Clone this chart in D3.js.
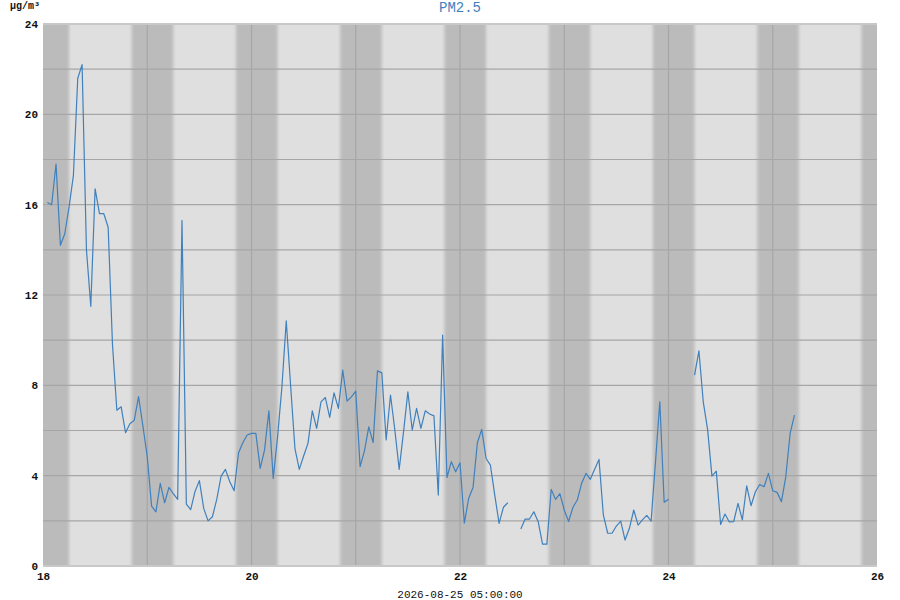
<!DOCTYPE html>
<html>
<head>
<meta charset="utf-8">
<script src="https://cdn.jsdelivr.net/npm/d3@7"></script>
<style>
	body { margin: 0; background: #fff; }
	svg text { font-family: "Liberation Mono", "DejaVu Sans Mono", monospace; }
</style>
</head>
<body>
<div id="chart" style="width:900px;height:600px"></div>
<script>
// PM2.5 hourly readings, first one at 2026-08-18 01:00, null = no reading
let startTime = '2026-08-18T01:00:00';
let pm25 = [
	16.1, 16.0, 17.8, 14.2, 14.7, 15.9, 17.3, 21.6, 22.2, 14.0, 11.5, 16.7,
	15.6, 15.6, 15.0, 9.8, 6.9, 7.05, 5.9, 6.3, 6.45, 7.5, 6.2, 4.84,
	2.65, 2.4, 3.66, 2.8, 3.48, 3.2, 2.95, 15.3, 2.74, 2.5, 3.3, 3.78,
	2.55, 2.0, 2.18, 2.95, 3.98, 4.28, 3.73, 3.33, 5.0, 5.46, 5.8, 5.87,
	5.87, 4.32, 5.13, 6.87, 3.88, 5.72, 7.93, 10.85, 8.0, 5.2, 4.28, 4.87,
	5.43, 6.87, 6.09, 7.27, 7.46, 6.58, 7.67, 6.98, 8.67, 7.3, 7.49, 7.74,
	4.4, 5.1, 6.16, 5.46, 8.64, 8.55, 5.58, 7.57, 6.02, 4.28, 5.94, 7.71,
	6.02, 6.98, 6.09, 6.87, 6.73, 6.65, 3.14, 10.22, 3.92, 4.62, 4.17, 4.57,
	1.9, 3.0, 3.48, 5.46, 6.05, 4.76, 4.47, 3.14, 1.89, 2.6, 2.8, null,
	null, 1.64, 2.08, 2.08, 2.4, 1.96, 0.97, 0.97, 3.39, 2.95, 3.2, 2.48,
	1.97, 2.6, 2.92, 3.66, 4.1, 3.84, 4.28, 4.72, 2.26, 1.45, 1.45, 1.77,
	1.99, 1.15, 1.67, 2.48, 1.81, 2.04, 2.24, 1.99, 4.6, 7.27, 2.82, 2.96,
	null, null, null, null, null, 8.45, 9.53, 7.27, 6.05, 3.98, 4.2, 1.84,
	2.3, 1.95, 1.96, 2.77, 2.04, 3.55, 2.67, 3.29, 3.61, 3.51, 4.1, 3.33,
	3.26, 2.85, 3.95, 5.87, 6.68
];
let xDomain = ['2026-08-18T00:00:00', '2026-08-26T00:00:00'];
let xTicks = ['2026-08-18', '2026-08-20', '2026-08-22', '2026-08-24', '2026-08-26'];
let yTicks = [0, 4, 8, 12, 16, 20, 24];
let yGrid = [0, 2, 4, 6, 8, 10, 12, 14, 16, 18, 20, 22, 24];
// night shading: from sunset of the day before to sunrise
let nightDays = ['2026-08-18', '2026-08-19', '2026-08-20', '2026-08-21', '2026-08-22',
	'2026-08-23', '2026-08-24', '2026-08-25', '2026-08-26'];
let sunset = [20, 25];
let sunrise = [6, 0];
let title = 'PM2.5';
let unit = 'µg/m³';
let updated = '2026-08-25 05:00:00';

let W = 900, H = 600;
let m = {l: 43, t: 24, r: 23, b: 34};
let pw = W - m.l - m.r, ph = H - m.t - m.b;

let svg = d3.select('#chart').append('svg').attr('width', W).attr('height', H);
let defs = svg.append('defs');
defs.append('clipPath').attr('id', 'plotClip')
	.append('rect').attr('width', pw).attr('height', ph);
defs.append('filter').attr('id', 'soft').attr('x', '-20%').attr('width', '140%')
	.append('feGaussianBlur').attr('stdDeviation', '1.8 0');

let x = d3.scaleTime().domain(xDomain.map(d => new Date(d))).range([0, pw]);
let y = d3.scaleLinear().domain([0, 24]).range([ph, 0]);

let t0 = new Date(startTime);
let points = pm25.map((v, i) => ({t: d3.timeHour.offset(t0, i), v: v}));

let g = svg.append('g').attr('transform', `translate(${m.l},${m.t})`);

// background
let bg = g.append('g').attr('clip-path', 'url(#plotClip)');
bg.append('rect').attr('width', pw).attr('height', ph).attr('fill', '#dfdfdf');
let nights = nightDays.map(d => {
	let day = new Date(d + 'T00:00:00');
	let prev = d3.timeDay.offset(day, -1);
	return {
		from: new Date(prev.getFullYear(), prev.getMonth(), prev.getDate(), sunset[0], sunset[1]),
		to: new Date(day.getFullYear(), day.getMonth(), day.getDate(), sunrise[0], sunrise[1])
	};
});
bg.append('g').attr('filter', 'url(#soft)')
	.selectAll('rect').data(nights).enter().append('rect')
	.attr('x', d => x(d.from)).attr('width', d => x(d.to) - x(d.from))
	.attr('y', -10).attr('height', ph + 20)
	.attr('fill', '#bbbbbb');

// grid
g.append('g').selectAll('line').data(yGrid.slice(1, -1)).enter().append('line')
	.attr('x1', 0).attr('x2', pw).attr('y1', d => y(d)).attr('y2', d => y(d))
	.attr('stroke', '#a6a6a6').attr('stroke-width', 1.2);
g.append('g').selectAll('line').data(d3.timeDay.range(x.domain()[0], x.domain()[1]).slice(1)).enter().append('line')
	.attr('y1', 0).attr('y2', ph).attr('x1', d => x(d)).attr('x2', d => x(d))
	.attr('stroke', '#a6a6a6').attr('stroke-width', 1.2);

// frame
g.append('line').attr('x1', 0).attr('x2', pw).attr('y1', 0).attr('y2', 0)
	.attr('stroke', '#c8c8c8').attr('stroke-width', 2);
g.append('line').attr('x1', 0).attr('x2', pw).attr('y1', ph).attr('y2', ph)
	.attr('stroke', '#c8c8c8').attr('stroke-width', 2);

// line
let line = d3.line().defined(d => d.v != null).x(d => x(d.t)).y(d => y(d.v));
g.append('path').datum(points).attr('d', line)
	.attr('fill', 'none').attr('stroke', '#3f80bd').attr('stroke-width', 1.2)
	.attr('stroke-linejoin', 'round');

// axes
let yAxis = g.append('g').call(d3.axisLeft(y).tickValues(yTicks).tickSize(0).tickPadding(5));
let xAxis = g.append('g').attr('transform', `translate(0,${ph})`)
	.call(d3.axisBottom(x).tickValues(xTicks.map(d => new Date(d + 'T00:00:00')))
		.tickFormat(d3.timeFormat('%-d')).tickSize(0).tickPadding(6));
[yAxis, xAxis].forEach(a => {
	a.select('.domain').remove();
	a.selectAll('text').attr('font-size', 11).attr('font-weight', 'bold').attr('fill', '#111')
		.style('font-family', '"Liberation Mono", monospace');
});

// labels
svg.append('text').attr('x', m.l + pw / 2).attr('y', 12).attr('text-anchor', 'middle')
	.attr('font-size', 14).attr('fill', '#3f80bd').text(title);
svg.append('text').attr('x', 10).attr('y', 9).attr('font-size', 10)
	.attr('font-weight', 'bold').attr('fill', '#111').text(unit);
svg.append('text').attr('x', m.l + pw / 2).attr('y', 598).attr('text-anchor', 'middle')
	.attr('font-size', 11).attr('fill', '#111').text(updated);
</script>
</body>
</html>
